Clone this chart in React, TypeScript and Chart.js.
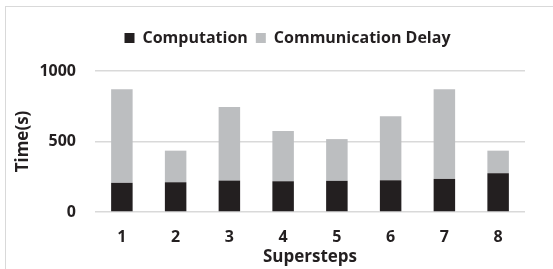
import React, { useEffect, useRef } from "react";
import { Chart, registerables } from "chart.js";

Chart.register(...registerables);

const categories = ["1", "2", "3", "4", "5", "6", "7", "8"];
const computation = [207, 211, 223, 218, 221, 225, 235, 275];
const communicationDelay = [663, 224, 521, 357, 296, 454, 635, 160];
const yTicks = [0, 500, 1000];

const FONT = "'Open Sans', sans-serif";
const TEXT = "#231f20";

export default function App() {
  const ref = useRef<HTMLCanvasElement | null>(null);

  useEffect(() => {
    if (!ref.current) return;
    const legendMargin = {
      id: "legendMargin",
      beforeInit(chart: any) {
        const lg = chart.legend;
        const fit = lg.fit;
        lg.fit = function () {
          fit.bind(lg)();
          this.height += 15;
        };
        const draw = lg.draw;
        lg.draw = function () {
          const ctx = chart.ctx;
          ctx.save();
          ctx.translate(22, 0);
          draw.bind(lg)();
          ctx.restore();
        };
      },
    };
    const chart = new Chart(ref.current, {
      type: "bar",
      data: {
        labels: categories,
        datasets: [
          {
            label: "Computation",
            data: computation,
            backgroundColor: "#231f20",
            barPercentage: 0.4,
            categoryPercentage: 1,
          },
          {
            label: "Communication Delay",
            data: communicationDelay,
            backgroundColor: "#bcbec0",
            barPercentage: 0.4,
            categoryPercentage: 1,
          },
        ],
      },
      options: {
        responsive: false,
        animation: false,
        devicePixelRatio: 1,
        layout: { padding: { left: 6, right: 28, top: 22, bottom: 0 } },
        plugins: {
          tooltip: { enabled: false },
          legend: {
            position: "top",
            labels: {
              boxWidth: 10,
              boxHeight: 10,
              padding: 8,
              color: TEXT,
              font: { family: FONT, size: 16, weight: "bold" },
            },
          },
        },
        scales: {
          x: {
            stacked: true,
            grid: { display: false, drawTicks: false },
            border: { display: false },
            ticks: {
              color: TEXT,
              padding: 16,
              font: { family: FONT, size: 16, weight: "bold" },
            },
            title: {
              display: true,
              text: "Supersteps",
              color: TEXT,
              padding: { top: 0, bottom: 2 },
              font: { family: FONT, size: 17, weight: "bold" },
            },
            afterFit: (s: any) => {
              s.height = 57;
            },
          },
          y: {
            stacked: true,
            min: 0,
            max: 1000,
            afterBuildTicks: (s: any) => {
              s.ticks = yTicks.map((v) => ({ value: v }));
            },
            grid: { color: "#d9d9d9", lineWidth: 1.5, drawTicks: false },
            border: { display: false },
            ticks: {
              color: TEXT,
              padding: 19,
              font: { family: FONT, size: 16, weight: "bold" },
              callback: (v: any) => String(v),
            },
            title: {
              display: true,
              text: "Time(s)",
              color: TEXT,
              padding: { top: 7, bottom: 0 },
              font: { family: FONT, size: 17, weight: "bold" },
            },
            afterFit: (s: any) => {
              s.width = 89;
            },
          },
        },
      },
      plugins: [legendMargin],
    });
    return () => chart.destroy();
  }, []);

  return (
    <div>
      <div
        style={{
          position: "fixed",
          left: 5,
          top: 6,
          width: 600,
          height: 300,
          border: "1.5px solid #d9d9d9",
          boxSizing: "border-box",
        }}
      />
      <canvas
        ref={ref}
        width={553}
        height={269}
        style={{ position: "fixed", left: 0, top: 0, width: 553, height: 269 }}
      />
    </div>
  );
}
